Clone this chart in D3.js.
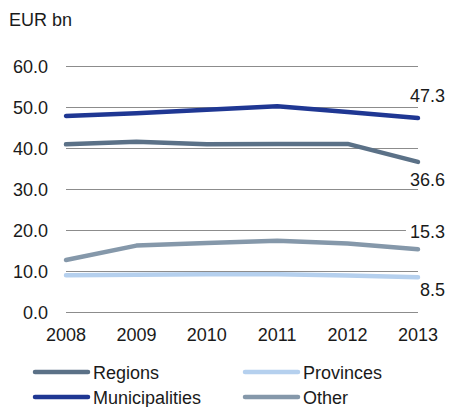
<!DOCTYPE html>
<html>
<head>
<meta charset="utf-8">
<script src="https://cdn.jsdelivr.net/npm/d3@7"></script>
<style>
  body { margin: 0; background: #fff; }
  text { font-family: "Liberation Sans", Arial, sans-serif; fill: #1a1a1a; }
</style>
</head>
<body>
<script>
var years = [2008, 2009, 2010, 2011, 2012, 2013];
var regions = [40.9, 41.5, 40.9, 41.0, 41.0, 36.6];
var provinces = [8.95, 9.1, 9.2, 9.2, 8.9, 8.5];
var municipalities = [47.8, 48.5, 49.3, 50.2, 48.8, 47.3];
var other = [12.7, 16.2, 16.8, 17.4, 16.7, 15.3];
var yTicks = [0, 10, 20, 30, 40, 50, 60];

var series = [
    { name: "Regions", values: regions, color: "#5b7187", labelDy: 24 },
    { name: "Provinces", values: provinces, color: "#b5d0ee", labelDy: 19 },
    { name: "Municipalities", values: municipalities, color: "#1f3793", labelDy: -16 },
    { name: "Other", values: other, color: "#8598aa", labelDy: -11 }
];

var width = 449, height = 407;

var x = d3.scaleLinear().domain([2008, 2013]).range([66, 418]);
var y = d3.scaleLinear().domain([0, 60]).range([312, 66]);

var svg = d3.select("body").append("svg")
    .attr("width", width)
    .attr("height", height);

svg.append("text")
    .attr("x", 9)
    .attr("y", 25.5)
    .style("font-size", "18px")
    .text("EUR bn");

// gridlines
svg.selectAll(".grid")
    .data(yTicks)
    .enter().append("line")
    .attr("x1", x(2008))
    .attr("x2", x(2013))
    .attr("y1", d => y(d) + 0.5)
    .attr("y2", d => y(d) + 0.5)
    .attr("stroke", "#8c8c8c")
    .attr("stroke-width", 1);

svg.selectAll(".ytick")
    .data(yTicks)
    .enter().append("text")
    .attr("x", 48)
    .attr("y", d => y(d) + 7)
    .attr("text-anchor", "end")
    .style("font-size", "18px")
    .text(d => d3.format(".1f")(d));

svg.selectAll(".xtick")
    .data(years)
    .enter().append("text")
    .attr("x", d => x(d))
    .attr("y", 341)
    .attr("text-anchor", "middle")
    .style("font-size", "18px")
    .text(d => d);

var line = d3.line()
    .x((d, i) => x(years[i]))
    .y(d => y(d));

// draw order: light ones under
[series[1], series[3], series[0], series[2]].forEach(s => {
    svg.append("path")
        .attr("d", line(s.values))
        .attr("fill", "none")
        .attr("stroke", s.color)
        .attr("stroke-width", 4.5)
        .attr("stroke-linecap", "round")
        .attr("stroke-linejoin", "round");
});

// end labels with white background
series.forEach(s => {
    var v = s.values[s.values.length - 1];
    var g = svg.append("g");
    var t = g.append("text")
        .attr("x", 445)
        .attr("y", y(v) + s.labelDy)
        .attr("text-anchor", "end")
        .style("font-size", "18px")
        .text(d3.format(".1f")(v));
    var b = t.node().getBBox();
    g.insert("rect", "text")
        .attr("x", b.x - 4)
        .attr("y", b.y + 2)
        .attr("width", b.width + 8)
        .attr("height", b.height - 4)
        .attr("fill", "#fff");
});

// legend
var legend = svg.selectAll(".legend")
    .data(series)
    .enter().append("g")
    .attr("transform", (d, i) => "translate(" + (i % 2 ? 244 : 34) + "," + (i < 2 ? 372 : 397) + ")");

legend.append("line")
    .attr("x1", 1)
    .attr("x2", 54)
    .attr("stroke", d => d.color)
    .attr("stroke-width", 4.5)
    .attr("stroke-linecap", "round");

legend.append("text")
    .attr("x", 59)
    .attr("y", 6.5)
    .style("font-size", "18px")
    .text(d => d.name);
</script>
</body>
</html>
